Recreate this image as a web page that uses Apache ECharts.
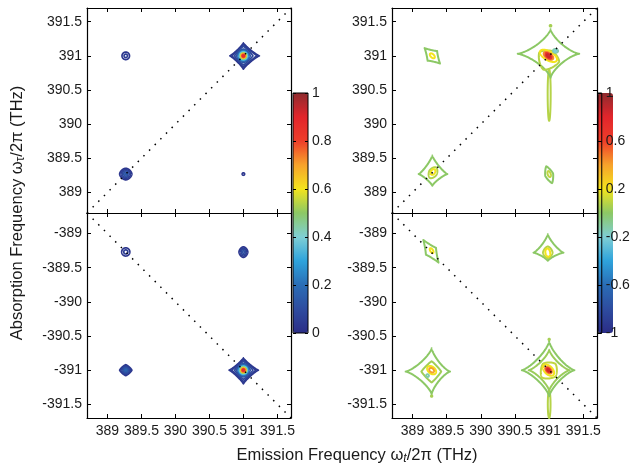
<!DOCTYPE html>
<html>
<head>
<meta charset="utf-8">
<script src="https://cdn.jsdelivr.net/npm/echarts@6.0.0/dist/echarts.min.js"></script>
<style>
  html, body { margin: 0; padding: 0; background: #fff; }
  #chart { width: 630px; height: 470px; }
</style>
</head>
<body>
<div id="chart"></div>
<script>
// axis ranges and ticks (THz)
const freqRange = [388.7, 391.7];
const xTicks = [389, 389.5, 390, 390.5, 391, 391.5];
const yTicksTop = [389, 389.5, 390, 390.5, 391, 391.5];
const yTicksBottom = [-389, -389.5, -390, -390.5, -391, -391.5];
const cbTicksAbs = [0, 0.2, 0.4, 0.6, 0.8, 1];
const cbTicksRe = [-1, -0.6, -0.2, 0.2, 0.6, 1];

// contour rings: [cx, cy, level, left, right, down, up, pinch, rotDeg]
const absTop = [
  [389.27, 391.0, 0.03, 0.055, 0.055, 0.055, 0.055, 1, 0],
  [389.27, 391.0, 0.05, 0.025, 0.025, 0.025, 0.025, 1, 0],
  [389.27, 389.27, 0.03, 0.09, 0.09, 0.085, 0.085, 1.2, 0],
  [389.27, 389.27, 0.05, 0.07, 0.07, 0.065, 0.065, 1.1, 0],
  [389.27, 389.27, 0.08, 0.05, 0.05, 0.047, 0.047, 1, 0],
  [389.27, 389.27, 0.11, 0.03, 0.03, 0.03, 0.03, 1, 0],
  [389.27, 389.27, 0.14, 0.012, 0.012, 0.012, 0.012, 1, 0],
  [391.0, 389.27, 0.03, 0.018, 0.018, 0.018, 0.018, 1, 0],
  [391.0, 391.0, 0.03, 0.20, 0.235, 0.195, 0.19, 2.3, 0],
  [391.0, 391.0, 0.05, 0.17, 0.20, 0.165, 0.165, 2.1, 0],
  [391.0, 391.0, 0.08, 0.13, 0.14, 0.135, 0.14, 1.8, 0],
  [391.0, 391.0, 0.12, 0.10, 0.10, 0.10, 0.10, 1.4, 0],
  [391.0, 391.0, 0.18, 0.08, 0.08, 0.08, 0.08, 1.2, 0],
  [391.0, 391.0, 0.28, 0.065, 0.065, 0.065, 0.065, 1, 0],
  [391.0, 391.0, 0.38, 0.055, 0.055, 0.055, 0.055, 1, 0],
  [391.0, 391.0, 0.48, 0.045, 0.045, 0.045, 0.045, 1, 0],
  [391.0, 391.0, 0.58, 0.037, 0.037, 0.037, 0.037, 1, 0],
  [391.0, 391.0, 0.68, 0.03, 0.03, 0.03, 0.03, 1, 0],
  [391.0, 391.0, 0.78, 0.022, 0.022, 0.022, 0.022, 1, 0],
  [391.0, 391.0, 0.88, 0.012, 0.012, 0.012, 0.012, 1, 0]
];
const absBottom = [
  [389.27, -389.27, 0.03, 0.06, 0.06, 0.06, 0.06, 1, 0],
  [389.27, -389.27, 0.05, 0.03, 0.03, 0.03, 0.03, 1, 0],
  [391.0, -389.27, 0.03, 0.065, 0.065, 0.08, 0.075, 1.2, 0],
  [391.0, -389.27, 0.05, 0.048, 0.048, 0.06, 0.055, 1.1, 0],
  [391.0, -389.27, 0.08, 0.03, 0.03, 0.04, 0.04, 1, 0],
  [391.0, -389.27, 0.11, 0.015, 0.015, 0.018, 0.018, 1, 0],
  [389.27, -391.0, 0.03, 0.09, 0.09, 0.08, 0.08, 1.6, 0],
  [389.27, -391.0, 0.05, 0.072, 0.072, 0.065, 0.065, 1.4, 0],
  [389.27, -391.0, 0.08, 0.055, 0.055, 0.05, 0.05, 1.2, 0],
  [389.27, -391.0, 0.11, 0.038, 0.038, 0.035, 0.035, 1, 0],
  [389.27, -391.0, 0.14, 0.022, 0.022, 0.02, 0.02, 1, 0],
  [389.27, -391.0, 0.17, 0.01, 0.01, 0.01, 0.01, 1, 0],
  [391.0, -391.0, 0.03, 0.21, 0.22, 0.20, 0.18, 2.3, 0],
  [391.0, -391.0, 0.05, 0.175, 0.185, 0.17, 0.155, 2.1, 0],
  [391.0, -391.0, 0.08, 0.13, 0.14, 0.135, 0.13, 1.8, 0],
  [391.0, -391.0, 0.12, 0.10, 0.10, 0.10, 0.10, 1.4, 0],
  [391.0, -391.0, 0.18, 0.08, 0.08, 0.08, 0.08, 1.2, 0],
  [391.0, -391.0, 0.28, 0.065, 0.065, 0.065, 0.065, 1, 0],
  [391.0, -391.0, 0.38, 0.055, 0.055, 0.055, 0.055, 1, 0],
  [391.0, -391.0, 0.48, 0.045, 0.045, 0.045, 0.045, 1, 0],
  [391.0, -391.0, 0.58, 0.037, 0.037, 0.037, 0.037, 1, 0],
  [391.0, -391.0, 0.68, 0.03, 0.03, 0.03, 0.03, 1, 0],
  [391.0, -391.0, 0.78, 0.022, 0.022, 0.022, 0.022, 1, 0],
  [391.0, -391.0, 0.88, 0.012, 0.012, 0.012, 0.012, 1, 0]
];
const reTop = [
  [389.29, 391.0, 0.0, 0.16, 0.16, 0.1, 0.1, 2.2, -45],
  [389.29, 391.0, 0.2, 0.045, 0.045, 0.025, 0.025, 1, -45],
  [389.29, 389.27, 0.0, 0.2, 0.22, 0.17, 0.27, 2.4, 0],
  [389.3, 389.29, 0.08, 0.06, 0.06, 0.09, 0.09, 1.2, -30],
  [389.3, 389.3, 0.2, 0.03, 0.03, 0.045, 0.045, 1, -30],
  [391.0, 389.26, 0.0, 0.06, 0.06, 0.13, 0.13, 1.6, 19],
  [391.0, 389.27, 0.1, 0.022, 0.022, 0.045, 0.045, 1, 19],
  [391.0, 390.45, 0.08, 0.022, 0.022, 0.4, 0.35, 1, 0],
  [391.02, 391.03, 0.0, 0.48, 0.42, 0.35, 0.36, 2.7, 0],
  [391.0, 390.98, 0.08, 0.16, 0.16, 0.2, 0.1, 1.4, -25],
  [390.99, 391.0, 0.2, 0.14, 0.14, 0.065, 0.065, 1, -30],
  [390.99, 391.0, 0.45, 0.08, 0.08, 0.042, 0.042, 1, -35],
  [390.99, 391.0, 0.65, 0.055, 0.055, 0.028, 0.028, 1, -40],
  [390.99, 391.0, 0.85, 0.03, 0.03, 0.015, 0.015, 1, -40],
  [391.09, 391.07, -0.12, 0.035, 0.04, 0.025, 0.03, 1, 0],
  [391.09, 391.07, -0.2, 0.015, 0.015, 0.012, 0.012, 1, 0],
  [391.02, 391.44, 0.05, 0.012, 0.012, 0.012, 0.012, 1, 0]
];
const reBottom = [
  [389.27, -389.26, 0.0, 0.2, 0.2, 0.09, 0.09, 2.2, -56],
  [389.28, -389.25, 0.2, 0.04, 0.04, 0.02, 0.02, 1, -56],
  [390.98, -389.28, 0.0, 0.21, 0.23, 0.12, 0.27, 2.5, 0],
  [390.98, -389.28, 0.08, 0.07, 0.07, 0.08, 0.09, 1.3, 0],
  [390.98, -389.28, 0.2, 0.035, 0.035, 0.06, 0.06, 1, 10],
  [389.28, -391.02, 0.0, 0.38, 0.27, 0.33, 0.34, 2.6, 0],
  [389.28, -391.02, 0.04, 0.15, 0.14, 0.16, 0.15, 1.8, 0],
  [389.28, -391.0, 0.2, 0.075, 0.075, 0.05, 0.05, 1, -40],
  [389.28, -391.0, 0.4, 0.04, 0.04, 0.028, 0.028, 1, -40],
  [389.22, -391.08, -0.12, 0.02, 0.02, 0.02, 0.02, 1, 0],
  [389.28, -391.38, 0.05, 0.01, 0.01, 0.01, 0.01, 1, 0],
  [391.0, -391.5, 0.08, 0.02, 0.02, 0.2, 0.2, 1, 0],
  [391.0, -391.0, 0.0, 0.4, 0.37, 0.38, 0.42, 2.6, 0],
  [391.0, -391.0, 0.03, 0.3, 0.3, 0.3, 0.3, 2.6, 0],
  [391.0, -391.0, 0.1, 0.13, 0.13, 0.15, 0.13, 1.4, -45],
  [390.99, -391.0, 0.2, 0.1, 0.1, 0.06, 0.06, 1, -45],
  [390.99, -391.0, 0.45, 0.06, 0.06, 0.035, 0.035, 1, -45],
  [390.99, -391.0, 0.65, 0.04, 0.04, 0.022, 0.022, 1, -45],
  [390.99, -391.0, 0.85, 0.02, 0.02, 0.01, 0.01, 1, -45],
  [391.0, -390.55, 0.05, 0.01, 0.01, 0.01, 0.01, 1, 0]
];

const colormap = ['#2b2d86', '#2e4ca0', '#2a6db5', '#2ea3dc', '#7fcfd5', '#8cc865',
  '#f3e41d', '#f7a32b', '#ee3e2a', '#e2252b', '#8e2b2e'];

const FONT = '"Liberation Sans", Arial, Helvetica, sans-serif';
const INK = '#1a1a1a';

function makeRenderer(width) {
  return function (params, api) {
    const cx = api.value(0), cy = api.value(1);
    const L = api.value(3), R = api.value(4), D = api.value(5), U = api.value(6);
    const p = api.value(7), rot = api.value(8) * Math.PI / 180;
    const pts = [];
    const n = 180;
    for (let i = 0; i < n; i++) {
      const t = i / n * 2 * Math.PI;
      const c = Math.cos(t), s = Math.sin(t);
      const dx = Math.sign(c) * Math.pow(Math.abs(c), p) * (c >= 0 ? R : L);
      const dy = Math.sign(s) * Math.pow(Math.abs(s), p) * (s >= 0 ? U : D);
      pts.push(api.coord([
        cx + dx * Math.cos(rot) - dy * Math.sin(rot),
        cy + dx * Math.sin(rot) + dy * Math.cos(rot)
      ]));
    }
    return {
      type: 'polygon',
      shape: { points: pts },
      style: { fill: 'none', stroke: api.visual('color'), lineWidth: width, lineJoin: 'round' }
    };
  };
}

const panels = [
  { left: 87, top: 8, width: 204, height: 205, y: [freqRange[0], freqRange[1]], yTicks: yTicksTop, xLabels: false, data: absTop, diag: 1, lw: 1.7 },
  { left: 87, top: 213, width: 204, height: 205, y: [-freqRange[1], -freqRange[0]], yTicks: yTicksBottom, xLabels: true, data: absBottom, diag: -1, lw: 1.7 },
  { left: 392, top: 8, width: 205, height: 205, y: [freqRange[0], freqRange[1]], yTicks: yTicksTop, xLabels: false, data: reTop, diag: 1, lw: 2 },
  { left: 392, top: 213, width: 205, height: 205, y: [-freqRange[1], -freqRange[0]], yTicks: yTicksBottom, xLabels: true, data: reBottom, diag: -1, lw: 2 }
];
const colorbars = [
  { left: 293, top: 93, width: 15, height: 240, range: [0, 1], ticks: cbTicksAbs },
  { left: 598, top: 93, width: 15, height: 240, range: [-1, 1], ticks: cbTicksRe }
];

const lineAx = { show: true, lineStyle: { color: '#000', width: 1.2 } };
const grid = [], xAxis = [], yAxis = [], series = [];

panels.forEach((pn, i) => {
  grid.push({ left: pn.left, top: pn.top, width: pn.width, height: pn.height });
  ['bottom', 'top'].forEach((pos, k) => {
    xAxis.push({
      type: 'value', gridIndex: i, position: pos, min: freqRange[0], max: freqRange[1],
      axisLine: lineAx, splitLine: { show: false },
      axisTick: { show: true, inside: true, length: 4, customValues: xTicks, lineStyle: { color: '#000' } },
      axisLabel: { show: k === 0 && pn.xLabels, customValues: xTicks, margin: 6,
        fontFamily: FONT, fontSize: 14, color: INK }
    });
  });
  ['left', 'right'].forEach((pos, k) => {
    yAxis.push({
      type: 'value', gridIndex: i, position: pos, min: pn.y[0], max: pn.y[1],
      axisLine: lineAx, splitLine: { show: false },
      axisTick: { show: true, inside: true, length: 4, customValues: pn.yTicks, lineStyle: { color: '#000' } },
      axisLabel: { show: k === 0, customValues: pn.yTicks, margin: 5,
        fontFamily: FONT, fontSize: 14, color: INK }
    });
  });
  series.push({
    type: 'custom', xAxisIndex: 2 * i, yAxisIndex: 2 * i,
    encode: { x: 0, y: 1 }, renderItem: makeRenderer(pn.lw), data: pn.data, z: 2
  });
});

panels.forEach((pn, i) => {
  series.push({
    type: 'line', xAxisIndex: 2 * i, yAxisIndex: 2 * i, symbol: 'none', z: 5,
    data: freqRange.map(v => [v, pn.diag * v]),
    lineStyle: { color: '#000', width: 1.5, type: [1.5, 6.5] }
  });
});

colorbars.forEach((cb, j) => {
  const gi = panels.length + j;
  grid.push({ left: cb.left, top: cb.top, width: cb.width, height: cb.height,
    show: true, borderColor: '#000', borderWidth: 1, backgroundColor: 'transparent', z: 10 });
  xAxis.push({ type: 'value', gridIndex: gi, show: false, min: 0, max: 1 });
  ['left', 'right'].forEach((pos, k) => {
    yAxis.push({
      type: 'value', gridIndex: gi, position: pos, min: cb.range[0], max: cb.range[1], z: 10,
      axisLine: { show: false }, splitLine: { show: false },
      axisTick: { show: true, inside: true, length: 3, customValues: cb.ticks, lineStyle: { color: '#000' } },
      axisLabel: { show: k === 1, customValues: cb.ticks, margin: 4,
        fontFamily: FONT, fontSize: 14, color: INK }
    });
  });
});

const visualMap = colorbars.map((cb, j) => ({
  type: 'continuous', min: cb.range[0], max: cb.range[1], dimension: 2,
  seriesIndex: j === 0 ? [0, 1] : [2, 3],
  left: cb.left, top: cb.top, itemWidth: cb.width, itemHeight: cb.height,
  padding: 0, calculable: false, hoverLink: false, text: ['', ''],
  inRange: { color: colormap }
}));

const chart = echarts.init(document.getElementById('chart'));
chart.setOption({
  animation: false,
  backgroundColor: '#fff',
  grid, xAxis, yAxis, series, visualMap,
  graphic: [
    {
      type: 'text', x: 357, y: 455,
      style: {
        text: '{a|Emission Frequency ω}{s|t}{a|/2π (THz)}',
        align: 'center', verticalAlign: 'middle', fill: INK,
        rich: {
          a: { fontFamily: FONT, fontSize: 16.5, lineHeight: 20, fill: INK },
          s: { fontFamily: FONT, fontSize: 12, fontStyle: 'italic', lineHeight: 12, verticalAlign: 'bottom', fill: INK }
        }
      }
    },
    {
      type: 'text', x: 17, y: 213, rotation: Math.PI / 2,
      style: {
        text: '{a|Absorption Frequency ω}{s|τ}{a|/2π (THz)}',
        align: 'center', verticalAlign: 'middle', fill: INK,
        rich: {
          a: { fontFamily: FONT, fontSize: 16.5, lineHeight: 20, fill: INK },
          s: { fontFamily: FONT, fontSize: 12, lineHeight: 12, verticalAlign: 'bottom', fill: INK }
        }
      }
    }
  ]
});
</script>
</body>
</html>
